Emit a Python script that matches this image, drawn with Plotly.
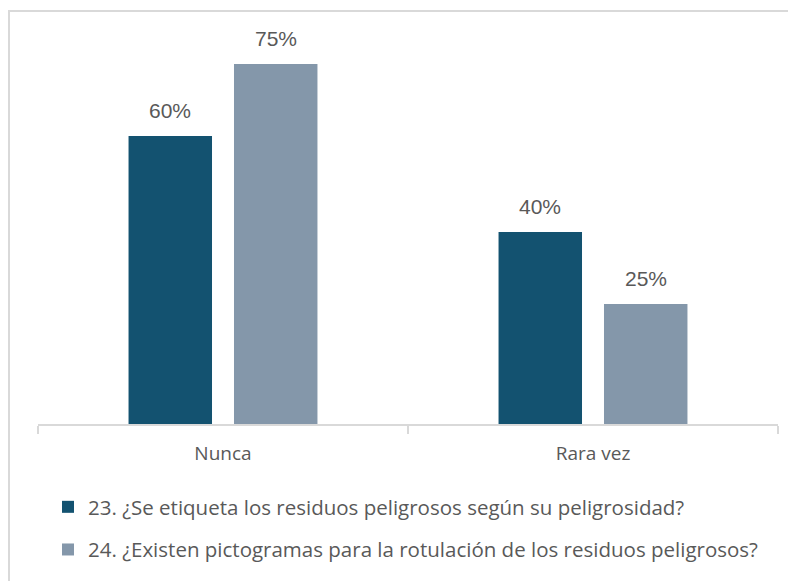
import plotly.graph_objects as go

categories = ["Nunca", "Rara vez"]
series_names = [
    "23. ¿Se etiqueta los residuos peligrosos según su peligrosidad?",
    "24. ¿Existen pictogramas para la rotulación de los residuos peligrosos?",
]
values_23 = [0.60, 0.40]
values_24 = [0.75, 0.25]
colors = ["#135270", "#8497AA"]

W, H = 796, 581
L, R, T, B = 30, 26, 32, 165
pw, ph = W - L - R, H - T - B
BARGAP, BARGROUPGAP = 0.43, 0.2085
# horizontal offset of each grouped bar centre from its category centre (px)
slot_px = pw / len(categories) * (1 - BARGAP) / 2
offsets = [-slot_px / 2, slot_px / 2]

fig = go.Figure()
annotations = []
for i, (name, vals) in enumerate(zip(series_names, [values_23, values_24])):
    fig.add_trace(go.Bar(
        x=categories, y=vals, name=name,
        marker=dict(color=colors[i], line=dict(width=0)),
        legendgroup=f"g{i}",
    ))
    for c, v in zip(categories, vals):
        annotations.append(dict(
            x=c, y=v, xref="x", yref="y", text=f"{v:.0%}", showarrow=False,
            xshift=offsets[i], yshift=26, yanchor="middle",
            font=dict(family="Liberation Sans, Arial", size=21, color="#595959"),
        ))

fig.update_layout(
    width=W, height=H,
    margin=dict(l=L, r=R, t=T, b=B, pad=0),
    paper_bgcolor="white", plot_bgcolor="white",
    barmode="group", bargap=BARGAP, bargroupgap=BARGROUPGAP,
    font=dict(family="Open Sans, Noto Sans", color="#595959", size=19),
    showlegend=True,
    legend=dict(
        x=(40 - L) / pw, xanchor="left", y=(416 - 479) / ph, yanchor="top",
        orientation="v", traceorder="grouped", tracegroupgap=13,
        font=dict(family="Open Sans, Noto Sans", size=20.5, color="#595959"),
        bgcolor="rgba(0,0,0,0)",
    ),
    xaxis=dict(
        showgrid=False, showline=True, linecolor="#d9d9d9", linewidth=2,
        ticks="outside", tickson="boundaries", ticklen=8, tickcolor="#d9d9d9",
        tickwidth=2, tickfont=dict(family="Open Sans, Noto Sans", size=19, color="#595959"),
        ticklabelstandoff=11,
    ),
    yaxis=dict(range=[0, 0.8], visible=False, showgrid=False),
    annotations=annotations,
    shapes=[dict(
        type="rect", xref="paper", yref="paper",
        x0=(1 - L) / pw, x1=1.2, y0=-0.6, y1=(416 - 3) / ph,
        line=dict(color="#d9d9d9", width=2), fillcolor="rgba(0,0,0,0)", layer="below",
    )],
)

fig.write_html("out.html")
